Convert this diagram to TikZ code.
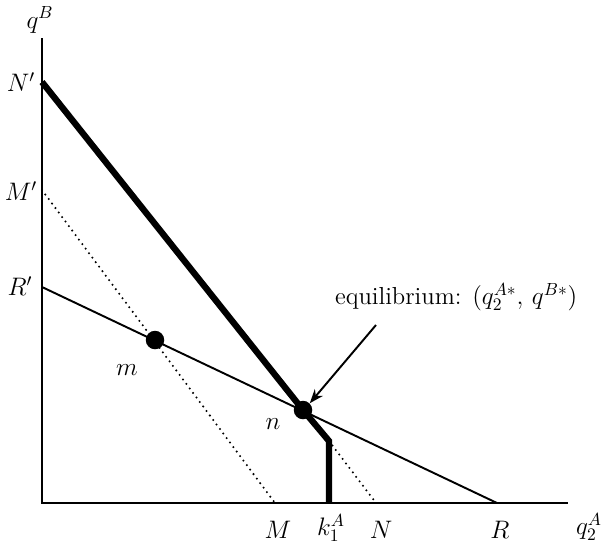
\documentclass[tikz,border=0pt]{standalone}
\usepackage{amsmath}
\usetikzlibrary{arrows.meta,positioning,calc}

\begin{document}
\begin{tikzpicture}[
  >=Stealth,
  x=0.02cm,y=-0.02cm,
  axis/.style={line width=1.4pt},
  thick curve/.style={line width=3.6pt, line join=miter},
  budget/.style={line width=1.1pt},
  iso/.style={line width=1.3pt, line cap=round, dash pattern=on 0pt off 3.2pt},
  pt/.style={circle, fill=black, inner sep=0pt, minimum size=0.37cm},
  lbl/.style={font=\fontsize{14}{16}\selectfont, inner sep=1pt}
]
\useasboundingbox (0,0) rectangle (608,545);

% axes
\coordinate (o) at (42,503);
\coordinate (ytop) at (42,38);
\coordinate (xend) at (568,503);
\draw[axis] (ytop) -- (o) -- (xend);
\node[lbl] (qB) at (40,20) {$q^{B}$};
\node[lbl] (qA) at (589,527) {$q_2^{A}$};

% intercepts on the vertical axis
\coordinate (Np) at (42,82);
\coordinate (Mp) at (42,190);
\coordinate (Rp) at (42,287);
\node[lbl] (lNp) at (21,82) {$N'$};
\node[lbl] (lMp) at (21,191) {$M'$};
\node[lbl] (lRp) at (20,286) {$R'$};

% intercepts on the horizontal axis
\coordinate (M) at (275,503);
\coordinate (k) at (329,503);
\coordinate (N) at (376,503);
\coordinate (R) at (497,503);
\node[lbl] (lM) at (278,530) {$M$};
\node[lbl] (lk) at (331,528) {$k_1^{A}$};
\node[lbl] (lN) at (381,530) {$N$};
\node[lbl] (lR) at (500,530) {$R$};

% points m and n
\node[pt] (m) at (155,340) {};
\node[pt] (n) at (303,410) {};
\coordinate (bend) at (329,441);
\node[lbl] (lm) at (127,370) {$m$};
\node[lbl] (ln) at (273,424) {$n$};

% lines
\draw[iso] (Mp) -- (M);
\draw[iso] (bend) -- (N);
\draw[budget] (Rp) -- (R);
\draw[thick curve] (Np) -- (n.center) -- (bend) -- (k);

% equilibrium label
\node[lbl, anchor=west] (eq) at (333,297) {equilibrium: $(q_2^{A*},\, q^{B*})$};
\draw[->, line width=1.1pt] (376,325) -- (n.north east);

\end{tikzpicture}
\end{document}
